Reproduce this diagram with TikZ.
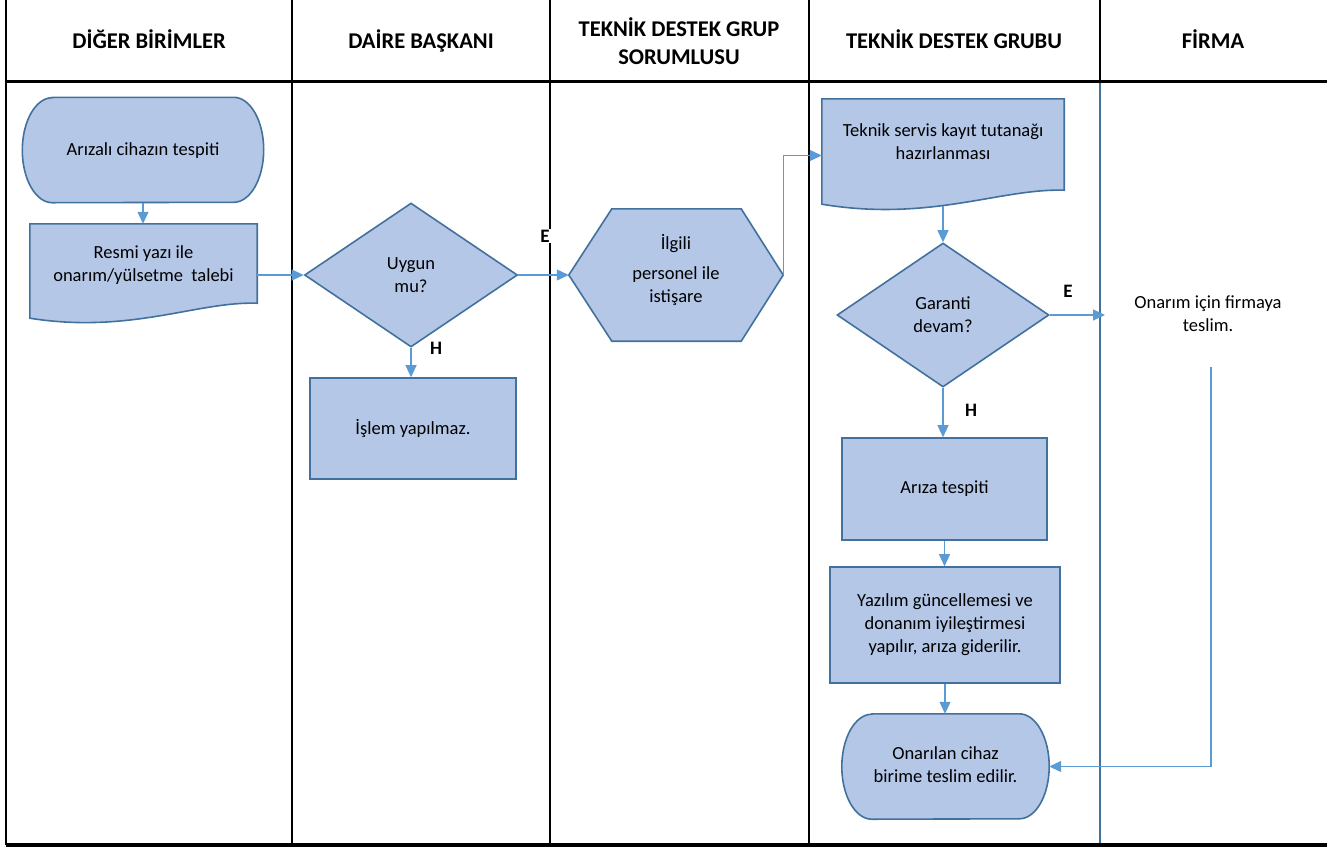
\documentclass[tikz,border=0pt]{standalone}
\usepackage{fontspec}
\setmainfont{Carlito}
\usetikzlibrary{shapes.geometric,arrows.meta,calc,backgrounds}
\definecolor{fillb}{HTML}{B4C7E7}
\definecolor{edgeb}{HTML}{41719C}
\definecolor{arrb}{HTML}{5B9BD5}
\begin{document}
\begin{tikzpicture}[x=1pt,y=-1pt,
  body/.style={font=\fontsize{18.5}{23}\selectfont, align=center, inner sep=0pt},
  head/.style={font=\fontsize{22.5}{28}\selectfont\bfseries, align=center},
  head1/.style={head, text height=16pt, text depth=1pt},
  lab/.style={font=\fontsize{19}{23}\selectfont\bfseries, inner sep=1pt},
  shp/.style={fill=fillb, draw=edgeb, line width=1.6pt},
  frame/.style={draw=none, inner sep=0pt},
  boxnode/.style={shp, rectangle, inner sep=0pt, font=\fontsize{18.5}{23}\selectfont, align=center},
  dia/.style={shp, diamond, inner sep=0pt, font=\fontsize{18.5}{23}\selectfont, align=center},
  arr/.style={draw=arrb, line width=1.1pt, -{Triangle[length=12pt,width=11pt]}},
  grid/.style={line width=2pt, black}
]
\useasboundingbox (0,0) rectangle (1327,847);

% ---- table ----
\draw[grid] (6,0) -- (6,845);
\draw[grid] (292,0) -- (292,845);
\draw[grid] (550,0) -- (550,845);
\draw[grid] (809,0) -- (809,845);
\draw[grid] (1100,0) -- (1100,81);
\draw[draw=edgeb, line width=2pt] (1100,81) -- (1100,845);
\draw[line width=3pt] (6,81) -- (1327,81);
\draw[line width=3.5pt] (6,845) -- (1327,845);

% ---- headers ----
\node[head1] (h1) at (149,41) {DİĞER BİRİMLER};
\node[head1] (h2) at (421,41) {DAİRE BAŞKANI};
\node[head] (h3) at (679,41) {TEKNİK DESTEK GRUP\\SORUMLUSU};
\node[head1] (h4) at (954,41) {TEKNİK DESTEK GRUBU};
\node[head1] (h5) at (1213,41) {FİRMA};

% ---- frames of drawn shapes ----
\node[frame, minimum width=241pt, minimum height=105pt] (t1) at (143,150) {};
\node[frame, minimum width=227pt, minimum height=96pt] (d1) at (143.5,272) {};
\node[frame, minimum width=214pt, minimum height=132pt] (hex) at (676,275) {};
\node[frame, minimum width=242pt, minimum height=107pt] (d2) at (943,152.5) {};
\node[frame, minimum width=207pt, minimum height=105pt] (t2) at (945.5,766.5) {};

\begin{scope}[on background layer]
  % terminator 1
  \path[shp] ($(t1.north west)+(30,0)$) -- ($(t1.north east)+(-30,0)$)
    arc[start angle=90, end angle=-90, x radius=30pt, y radius=52.5pt]
    -- ($(t1.south west)+(30,0)$)
    arc[start angle=270, end angle=90, x radius=30pt, y radius=52.5pt] -- cycle;
  % document 1
  \path[shp] (d1.north west) -- (d1.north east) -- ($(d1.south east)+(0,-17)$)
    .. controls ($(d1.south east)+(-60,-19)$) and ($(d1.south west)+(101,14)$)
    .. ($(d1.south west)+(0,-2)$) -- cycle;
  % hexagon
  \path[shp] (hex.west) -- ($(hex.north west)+(43,0)$) -- ($(hex.north east)+(-42,0)$)
    -- (hex.east) -- ($(hex.south east)+(-42,0)$) -- ($(hex.south west)+(43,0)$) -- cycle;
  % document 2
  \path[shp] (d2.north west) -- (d2.north east) -- ($(d2.south east)+(0,-16)$)
    .. controls ($(d2.south east)+(-64,-18)$) and ($(d2.south west)+(108,16)$)
    .. ($(d2.south west)+(0,-2)$) -- cycle;
  % terminator 2
  \path[shp] ($(t2.north west)+(30,0)$) -- ($(t2.north east)+(-30,0)$)
    arc[start angle=90, end angle=-90, x radius=30pt, y radius=52.5pt]
    -- ($(t2.south west)+(30,0)$)
    arc[start angle=270, end angle=90, x radius=30pt, y radius=52.5pt] -- cycle;
\end{scope}

% ---- texts in drawn shapes ----
\node[body] (t1t) at (143,151) {Arızalı cihazın tespiti};
\node[body] (d1t) at ($(d1.north)+(0,41)$) {Resmi yazı ile\\onarım/yülsetme\ \ talebi};
\node[body] (hext) at (676,270) {İlgili\\[7pt]personel ile\\istişare};
\node[body] (d2t) at ($(d2.north)+(0,43)$) {Teknik servis kayıt tutanağı\\hazırlanması};
\node[body] (t2t) at (945.5,765) {Onarılan cihaz\\birime teslim edilir.};

% ---- other nodes ----
\node[dia, minimum width=213pt, minimum height=144pt] (uy) at (411,275) {Uygun\\mu?};
\node[boxnode, minimum width=206pt, minimum height=101pt] (islem) at (413,428.5) {İşlem yapılmaz.};
\node[dia, minimum width=212pt, minimum height=144pt] (gd) at (943,315) {Garanti\\devam?};
\node[boxnode, minimum width=205pt, minimum height=102pt] (ariza) at (944.5,489) {Arıza tespiti};
\node[boxnode, minimum width=230pt, minimum height=116pt] (yaz) at (945,625) {Yazılım güncellemesi ve\\donanım iyileştirmesi\\yapılır, arıza giderilir.};
\node[body] (firma) at (1208,313.5) {Onarım için firmaya\\teslim.};
\coordinate (fbot) at (1211,367);
\coordinate (fin) at (1105,315);

% ---- labels ----
\node[lab, fill=white] (e1) at (545,236) {E};
\node[lab] (hl1) at (436,348) {H};
\node[lab] (e2) at (1068,291) {E};
\node[lab] (hl2) at (971,410) {H};

% ---- connectors ----
\draw[arr] (t1.south) -- (t1.south |- d1.north);
\draw[arr] (d1.east |- uy.west) -- (uy.west);
\draw[arr] (uy.east) -- (hex.west);
\draw[arr] (uy.south) -- (uy.south |- islem.north);
\draw[arr] (hex.east) |- ([yshift=-3pt]d2.west);
\draw[arr] (d2.south) -- (gd.north);
\draw[arr] (gd.east) -- (fin);
\draw[arr] (gd.south) -- (gd.south |- ariza.north);
\draw[arr] (ariza.south) -- (ariza.south |- yaz.north);
\draw[arr] (yaz.south) -- (yaz.south |- t2.north);
\draw[arr] (fbot) |- (t2.east);
\end{tikzpicture}
\end{document}
